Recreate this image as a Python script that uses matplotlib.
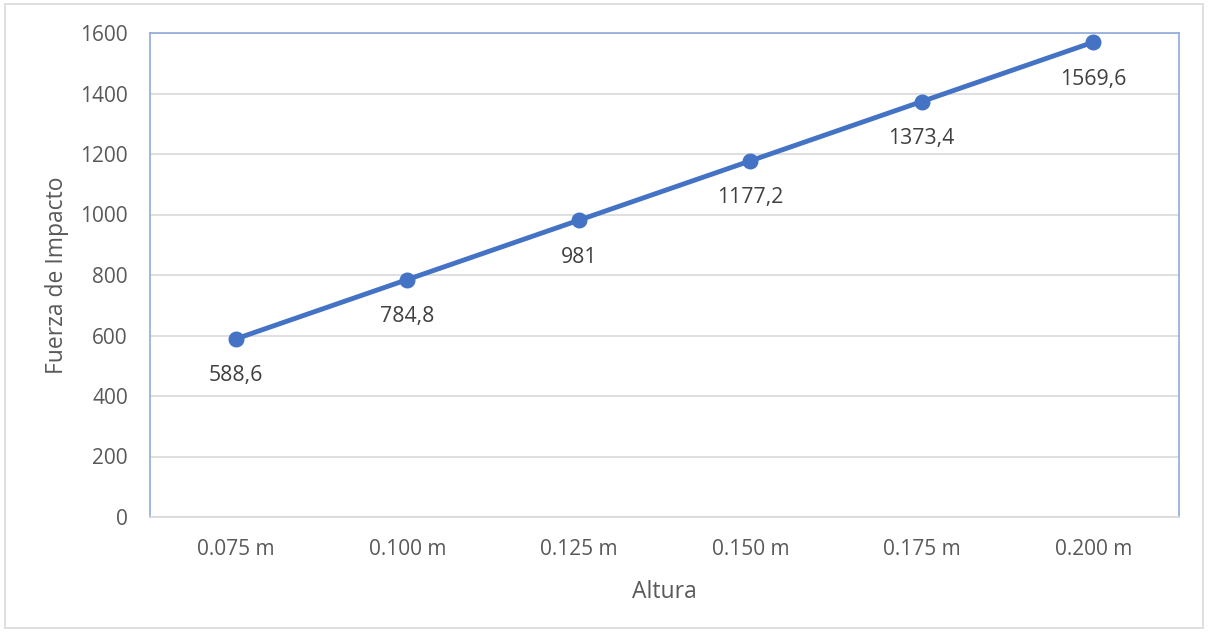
import matplotlib
matplotlib.use("Agg")
import matplotlib.pyplot as plt
from matplotlib.patches import FancyBboxPatch

categories = ["0.075 m", "0.100 m", "0.125 m", "0.150 m", "0.175 m", "0.200 m"]
fuerza = [588.6, 784.8, 981, 1177.2, 1373.4, 1569.6]
value_labels = ["588,6", "784,8", "981", "1177,2", "1373,4", "1569,6"]
y_ticks = [0, 200, 400, 600, 800, 1000, 1200, 1400, 1600]

plt.rcParams["font.family"] = ["Open Sans", "DejaVu Sans"]
text_color = "#595959"
line_color = "#4472C4"

W, H = 1208, 632
fig = plt.figure(figsize=(W / 100, H / 100), dpi=100)

# outer chart frame
fig.patches.append(FancyBboxPatch((5 / W, 4 / H), 1198 / W, 624 / H,
                                  boxstyle="square,pad=0", transform=fig.transFigure,
                                  fill=False, edgecolor="#D9D9D9", linewidth=1.2))

ax = fig.add_axes([150 / W, 1 - 517 / H, (1179 - 150) / W, (517 - 33) / H])
x = list(range(len(categories)))
ax.plot(x, fuerza, color=line_color, linewidth=3.5, marker="o", markersize=10.5,
        solid_capstyle="round", zorder=3)

for xi, yi, lab in zip(x, fuerza, value_labels):
    ax.annotate(lab, (xi, yi), xytext=(0, -26.5), textcoords="offset points",
                ha="center", va="center", fontsize=15.3, color="#404040")

ax.set_xlim(-0.5, len(categories) - 0.5)
ax.set_ylim(0, 1600)
ax.set_yticks(y_ticks)
ax.set_xticks(x)
ax.set_xticklabels(categories)
ax.tick_params(axis="both", length=0, labelsize=15, colors=text_color)
ax.tick_params(axis="x", pad=16)
ax.tick_params(axis="y", pad=16)
ax.grid(axis="y", color="#D9D9D9", linewidth=1.2)
ax.set_axisbelow(True)

for side in ("left", "top", "right"):
    ax.spines[side].set_color("#8FAADC")
    ax.spines[side].set_linewidth(1.2)
ax.spines["bottom"].set_color("#D9D9D9")
ax.spines["bottom"].set_linewidth(1.2)

ax.set_xlabel("Altura", fontsize=16.5, color=text_color, labelpad=14)
ax.set_ylabel("Fuerza de Impacto", fontsize=16.5, color=text_color, labelpad=8)

fig.savefig("out.png", dpi=100, facecolor="white")
